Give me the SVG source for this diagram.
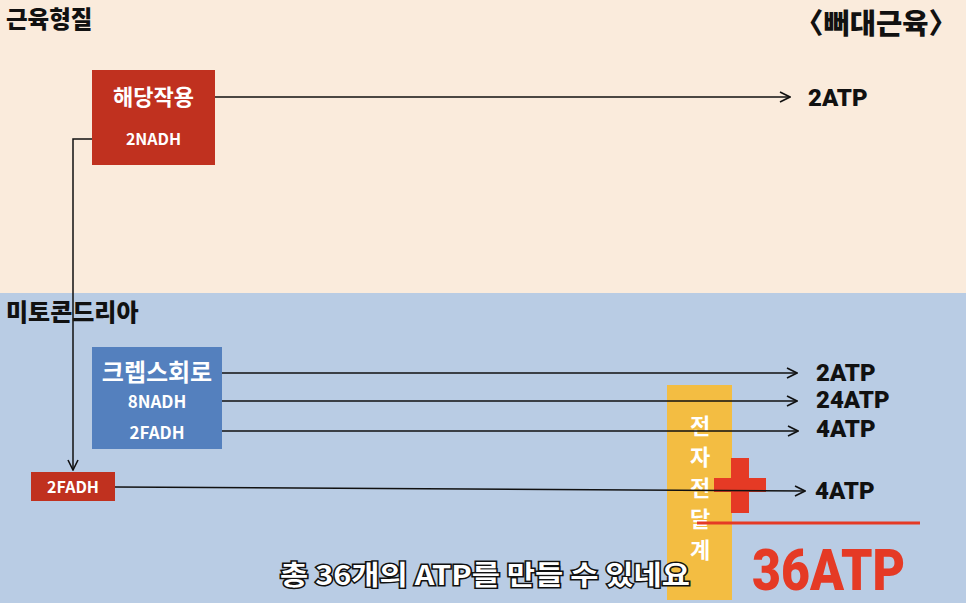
<svg xmlns="http://www.w3.org/2000/svg" width="966" height="603" viewBox="0 0 966 603">
<defs>
<marker id="arr" viewBox="0 0 12 12" refX="11" refY="6" markerWidth="12" markerHeight="12" markerUnits="userSpaceOnUse" orient="auto">
<path d="M1,1 L11,6 L1,11" fill="none" stroke="#111" stroke-width="1.6"/>
</marker>
<style>
.h{font-family:"Noto Sans CJK KR","Noto Sans",sans-serif;font-weight:900;fill:#111}
.w{font-family:"Noto Sans CJK KR","Noto Sans",sans-serif;font-weight:700;fill:#fff}
.atp{font-family:"Roboto","Liberation Sans",sans-serif;font-weight:900;fill:#111;font-size:24px}
.ln{fill:none;stroke:#111;stroke-width:1.5;marker-end:url(#arr)}
</style>
</defs>
<rect x="0" y="0" width="966" height="293" fill="#FAEBDC"/>
<rect x="0" y="293" width="966" height="310" fill="#B9CCE4"/>
<text class="h" x="6" y="28" font-size="23.5">근육형질</text>
<text class="h" x="795" y="33.5" font-size="28.5">〈뻐대근육〉</text>
<text class="h" x="6" y="321" font-size="24">미토콘드리아</text>

<g id="glycolysis">
<rect x="92" y="70" width="123" height="95" fill="#C0311F"/>
<text class="w" x="153.5" y="105" font-size="22" text-anchor="middle">해당작용</text>
<text class="w" x="153.5" y="145" font-size="16" text-anchor="middle">2NADH</text>
</g>

<g id="krebs">
<rect x="92" y="347" width="130" height="102" fill="#5480BE"/>
<text class="w" x="157" y="381" font-size="24" text-anchor="middle">크렙스회로</text>
<text class="w" x="157" y="408" font-size="17" text-anchor="middle">8NADH</text>
<text class="w" x="157" y="439" font-size="17" text-anchor="middle">2FADH</text>
</g>

<g id="fadh">
<rect x="31" y="472" width="84" height="29" fill="#C0311F"/>
<text class="w" x="73" y="493" font-size="16" text-anchor="middle">2FADH</text>
</g>

<g id="etc">
<rect x="667" y="385" width="65" height="215" fill="#F3BD42"/>
<text class="w" x="700" font-size="22" text-anchor="middle"><tspan x="700" y="434">전</tspan><tspan x="700" y="465">자</tspan><tspan x="700" y="496">전</tspan><tspan x="700" y="527">달</tspan><tspan x="700" y="558">계</tspan></text>
</g>

<g id="sum">
<rect x="731" y="458" width="18" height="55" fill="#E53A25"/>
<rect x="714" y="478" width="52" height="14" fill="#E53A25"/>
<line x1="697" y1="523" x2="920" y2="523" stroke="#E53A25" stroke-width="3"/>
<text x="752" y="590" font-family="Roboto,'Liberation Sans',sans-serif" font-weight="900" font-size="58" fill="#E53A25" textLength="153" lengthAdjust="spacingAndGlyphs">36ATP</text>
</g>

<g id="connectors">
<path class="ln" d="M215,97 L790,97"/>
<path class="ln" d="M92,139 L73,139 L73,470"/>
<path class="ln" d="M222,373 L797,373"/>
<path class="ln" d="M222,401 L797,401"/>
<path class="ln" d="M222,431 L798,431"/>
<path class="ln" d="M115,487 L805,491"/>
</g>

<g id="labels">
<text class="atp" x="808" y="106">2ATP</text>
<text class="atp" x="816" y="381">2ATP</text>
<text class="atp" x="816" y="408">24ATP</text>
<text class="atp" x="816" y="437">4ATP</text>
<text class="atp" x="815" y="499">4ATP</text>
</g>

<text x="280" y="585" font-family="'Noto Sans CJK KR','Noto Sans',sans-serif" font-weight="700" font-size="27" fill="#fff" stroke="#111" stroke-width="3" paint-order="stroke" textLength="410" lengthAdjust="spacingAndGlyphs">총 36개의 ATP를 만들 수 있네요</text>
</svg>
